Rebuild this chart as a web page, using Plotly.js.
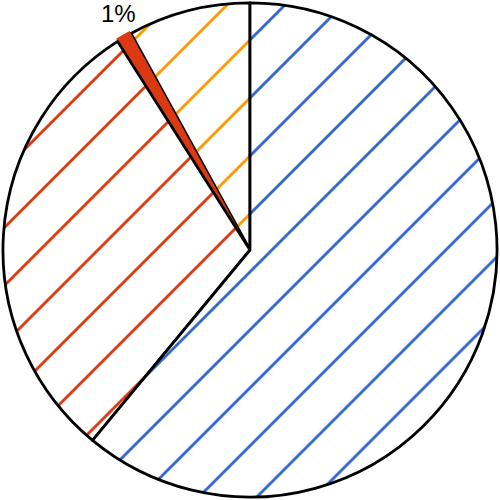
<!DOCTYPE html>
<html>
<head>
<meta charset="utf-8">
<script src="https://cdn.plot.ly/plotly-3.0.1.min.js"></script>
<style>html,body{margin:0;padding:0;background:#fff;}#chart{width:500px;height:500px;}</style>
</head>
<body>
<div id="chart"></div>
<script>
// Slices listed counterclockwise from 12 o'clock
const labels = ["Orange", "Small", "Red", "Blue"];
const values = [8, 1, 30, 61];
const colors = ["#FF9900", "#DC3912", "#DC3912", "#3366CC"];
const patternShapes = ["/", "", "/", "/"];
const pulls = [0, 0.012, 0, 0];
const labelledSlice = 1;

const total = values.reduce((a, b) => a + b, 0);
const labelText = Math.round(values[labelledSlice] / total * 100) + "%";

const trace = {
  type: "pie",
  labels: labels,
  values: values,
  sort: false,
  direction: "counterclockwise",
  rotation: -28.8,
  pull: pulls,
  textinfo: "none",
  marker: {
    colors: colors,
    line: {color: ["#000", "rgba(0,0,0,0)", "#000", "#000"], width: [2.8, 0, 2.8, 2.8]},
    pattern: {shape: patternShapes, size: 41, solidity: 0.07, fillmode: "replace"}
  },
  hoverinfo: "none"
};

const layout = {
  width: 500, height: 500,
  margin: {l: 0, r: 0, t: 0, b: 0, pad: 0},
  showlegend: false,
  paper_bgcolor: "#fff",
  font: {family: "Liberation Sans, Arial, sans-serif", size: 24},
  annotations: [{
    text: labelText, xref: "paper", yref: "paper",
    x: 0.236, y: 0.974, xanchor: "center", yanchor: "middle",
    showarrow: false,
    font: {size: 24, color: "#000", family: "Liberation Sans, Arial, sans-serif"}
  }]
};

Plotly.newPlot("chart", [trace], layout, {staticPlot: true});
</script>
</body>
</html>
